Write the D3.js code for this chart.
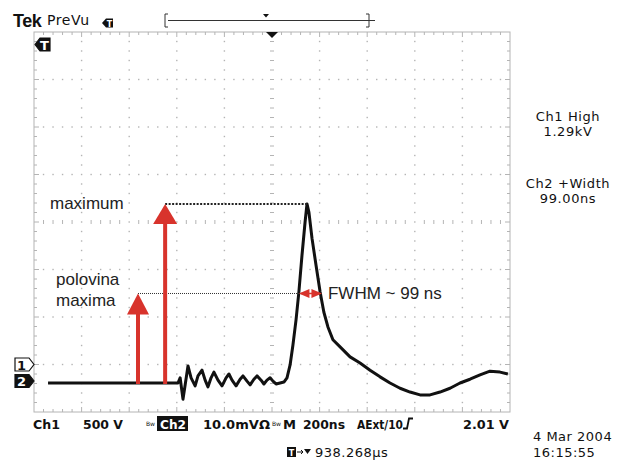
<!DOCTYPE html>
<html>
<head>
<meta charset="utf-8">
<script src="https://cdn.jsdelivr.net/npm/d3@7"></script>
<style>
body { margin: 0; background: #fff; }
svg { display: block; }
</style>
</head>
<body>
<div id="scope"></div>
<script>
// Ch2 trace: time in ns (0 = screen centre), volts in mV above Ch2 ground
const traceTime = [-941, -395, -386, -374, -365, -353, -340, -323, -311, -294, -281, -269, -256, -244,
    -227, -210, -193, -181, -168, -151, -134, -122, -105, -92, -76, -63, -46, -34, -21, -8, 4, 17,
    34, 50, 63, 76, 88, 101, 113, 126, 139, 147, 155, 168, 185, 202, 218, 235, 256, 286, 328, 370,
    412, 454, 496, 538, 580, 622, 664, 706, 748, 790, 832, 874, 916, 958, 991]
const traceVolt = [0, 0, 1.1, -3.4, -0.4, 3.6, 1.1, -0.6, 1.5, 2.7, 0.6, -0.8, 1.1, 2.3,
    0.6, -0.6, 1.1, 1.9, 0.6, -0.6, 0.8, 1.5, 0.4, -0.4, 0.8, 1.5, 0.6, -0.2, 0.6, 1.1, 0.4, -0.2,
    0, 0.2, 1.1, 3.8, 8.0, 13.3, 19.2, 26.9, 33.9, 37.7, 36.0, 30.5, 24.8, 19.2, 14.9, 11.8, 9.1, 7.6, 5.5, 4.2,
    2.7, 1.3, 0, -1.1, -1.9, -2.5, -2.5, -1.9, -1.1, 0, 0.8, 1.7, 2.5, 2.3, 1.9]

// annotation values
const peakTime = 147
const peakVolt = 37.7
const halfVolt = 18.85
const fwhmStart = 113
const fwhmEnd = 210
const arrowTimes = [-563, -449]
const arrowTips = [halfVolt, peakVolt]
const readoutTitles = ["Ch1 High", "Ch2 +Width"]
const readoutValues = ["1.29kV", "99.00ns"]

// screen consts
const width = 628
const height = 467
const grat = {left: 34, right: 510, top: 32, bottom: 412}
const xDivs = 10
const yDivs = 8
const grid_color = "#b4b4b4"
const red = "#d8332c"
const scope_font = "DejaVu Sans, sans-serif"
const note_font = "Liberation Sans, Arial, sans-serif"

const x = d3.scaleLinear().domain([-1000, 1000]).range([grat.left, grat.right])
const y = d3.scaleLinear().domain([-6.1, 73.9]).range([grat.bottom, grat.top])
const xDiv = d3.scaleLinear().domain([0, xDivs]).range([grat.left, grat.right])
const yDiv = d3.scaleLinear().domain([0, yDivs]).range([grat.bottom, grat.top])

const svg = d3.select("#scope").append("svg")
    .attr("width", width)
    .attr("height", height)
    .attr("viewBox", "0 0 " + width + " " + height)

// graticule
function draw_graticule(){
    var g = svg.append("g").attr("stroke", grid_color).attr("fill", grid_color)
    // dots on every division line, 5 per division
    for (var i = 1; i < xDivs; i++){
        for (var k = 1; k < yDivs * 5; k++){
            var cx = xDiv(i), cy = yDiv(k / 5)
            if (i == 5) g.append("line").attr("x1", cx - 2).attr("x2", cx + 2).attr("y1", cy).attr("y2", cy).attr("stroke-width", 1)
            else g.append("rect").attr("x", cx - 0.7).attr("y", cy - 0.7).attr("width", 1.4).attr("height", 1.4).attr("stroke", "none")
        }
    }
    for (var j = 1; j < yDivs; j++){
        for (var k = 1; k < xDivs * 5; k++){
            var cx = xDiv(k / 5), cy = yDiv(j)
            if (k % 5 == 0) continue
            if (j == 4) g.append("line").attr("x1", cx).attr("x2", cx).attr("y1", cy - 2).attr("y2", cy + 2).attr("stroke-width", 1)
            else g.append("rect").attr("x", cx - 0.7).attr("y", cy - 0.7).attr("width", 1.4).attr("height", 1.4).attr("stroke", "none")
        }
    }
    // border with minor ticks
    g.append("rect")
        .attr("x", grat.left).attr("y", grat.top)
        .attr("width", grat.right - grat.left).attr("height", grat.bottom - grat.top)
        .attr("fill", "none").attr("stroke-width", 1)
    for (var k = 1; k < xDivs * 5; k++){
        var len = k % 5 == 0 ? 5 : 3
        g.append("line").attr("x1", xDiv(k / 5)).attr("x2", xDiv(k / 5)).attr("y1", grat.top).attr("y2", grat.top + len)
        g.append("line").attr("x1", xDiv(k / 5)).attr("x2", xDiv(k / 5)).attr("y1", grat.bottom).attr("y2", grat.bottom - len)
    }
    for (var k = 1; k < yDivs * 5; k++){
        var len = k % 5 == 0 ? 5 : 3
        g.append("line").attr("x1", grat.left).attr("x2", grat.left + len).attr("y1", yDiv(k / 5)).attr("y2", yDiv(k / 5))
        g.append("line").attr("x1", grat.right).attr("x2", grat.right - len).attr("y1", yDiv(k / 5)).attr("y2", yDiv(k / 5))
    }
}

// trace
function draw_trace(){
    var line = d3.line()
        .x(function(d, i){ return x(traceTime[i]) })
        .y(function(d, i){ return y(traceVolt[i]) })
        .curve(d3.curveLinear)
    svg.append("path")
        .datum(traceTime)
        .attr("d", line)
        .attr("fill", "none")
        .attr("stroke", "#111")
        .attr("stroke-width", 3)
        .attr("stroke-linejoin", "round")
}

// red arrows, dotted guides and FWHM label
function draw_annotations(){
    svg.append("line")
        .attr("x1", x(arrowTimes[1])).attr("x2", x(peakTime))
        .attr("y1", y(peakVolt)).attr("y2", y(peakVolt))
        .attr("stroke", "#222").attr("stroke-width", 2).attr("stroke-dasharray", "2,1.5")
    svg.append("line")
        .attr("x1", x(arrowTimes[0])).attr("x2", x(fwhmStart))
        .attr("y1", y(halfVolt)).attr("y2", y(halfVolt))
        .attr("stroke", "#333").attr("stroke-width", 1).attr("stroke-dasharray", "1,1")

    var heads = [{w: 11, h: 21}, {w: 12, h: 20}]
    arrowTimes.forEach(function(t, i){
        var ax = x(t), tip = y(arrowTips[i]), hd = heads[i]
        svg.append("line")
            .attr("x1", ax).attr("x2", ax)
            .attr("y1", y(0) + 1).attr("y2", tip + hd.h - 1)
            .attr("stroke", red).attr("stroke-width", 4)
        svg.append("path")
            .attr("d", "M" + ax + "," + tip + "L" + (ax + hd.w) + "," + (tip + hd.h) + "L" + (ax - hd.w) + "," + (tip + hd.h) + "Z")
            .attr("fill", red)
    })

    // FWHM double arrow
    var fy = y(halfVolt), fl = x(fwhmStart), fr = x(fwhmEnd), fm = (fl + fr) / 2
    svg.append("path")
        .attr("d", "M" + fl + "," + fy + "L" + (fm - 1) + "," + (fy - 4.5) + "L" + (fm - 1) + "," + (fy + 4.5) + "Z" +
                   "M" + fr + "," + fy + "L" + (fm + 1) + "," + (fy - 4.5) + "L" + (fm + 1) + "," + (fy + 4.5) + "Z")
        .attr("fill", red)
    svg.append("line").attr("x1", fl + 2).attr("x2", fr - 2).attr("y1", fy).attr("y2", fy)
        .attr("stroke", red).attr("stroke-width", 1.5)

    var notes = svg.append("g").attr("font-family", note_font).attr("font-size", 17).attr("fill", "#222")
    notes.append("text").attr("x", 50).attr("y", y(peakVolt) + 5).text("maximum")
    notes.append("text").attr("x", 56).attr("y", 285).text("polovina")
    notes.append("text").attr("x", 56).attr("y", 306).text("maxima")
    notes.append("text").attr("x", fr + 6).attr("y", fy + 6).text("FWHM ~ 99 ns")
}

// scope markers: pentagon label pointing right (channels) or left (trigger)
function marker(cx, cy, label, filled, dir){
    var w = 19, h = 13, p = 5
    var d = dir > 0
        ? "M" + (cx - w) + "," + (cy - h / 2) + "L" + (cx - p) + "," + (cy - h / 2) + "L" + cx + "," + cy +
          "L" + (cx - p) + "," + (cy + h / 2) + "L" + (cx - w) + "," + (cy + h / 2) + "Z"
        : "M" + cx + "," + cy + "L" + (cx + p) + "," + (cy - h / 2) + "L" + (cx + w - 4) + "," + (cy - h / 2) +
          "L" + (cx + w - 4) + "," + (cy + h / 2) + "L" + (cx + p) + "," + (cy + h / 2) + "Z"
    svg.append("path").attr("d", d)
        .attr("fill", filled ? "#111" : "#fff").attr("stroke", "#111").attr("stroke-width", 1.2)
    svg.append("text")
        .attr("x", dir > 0 ? cx - w / 2 - 3 : cx + w / 2)
        .attr("y", cy + 5)
        .attr("text-anchor", "middle")
        .attr("font-family", scope_font).attr("font-weight", "bold").attr("font-size", 13)
        .attr("fill", filled ? "#fff" : "#111")
        .text(label)
}

// fitted text for the status line
function fit_text(g, tx, ty, str, len){
    return g.append("text").attr("x", tx).attr("y", ty)
        .attr("textLength", len).attr("lengthAdjust", "spacingAndGlyphs")
        .text(str)
}

function draw_screen_text(){
    svg.append("text").attr("x", 13).attr("y", 27)
        .attr("font-family", note_font).attr("font-weight", "bold").attr("font-size", 18)
        .attr("letter-spacing", -0.5).attr("fill", "#111").text("Tek")
    svg.append("text").attr("x", 47).attr("y", 25)
        .attr("font-family", scope_font).attr("font-size", 14).attr("letter-spacing", 0.6)
        .attr("fill", "#111").text("PreVu")
    svg.append("path").attr("d", "M102,23L106,18.5L113,18.5L113,27.5L106,27.5Z").attr("fill", "#111")
    svg.append("text").attr("x", 109.5).attr("y", 26.5).attr("text-anchor", "middle")
        .attr("font-family", scope_font).attr("font-weight", "bold").attr("font-size", 8).attr("fill", "#fff").text("T")

    // record bracket
    var b = svg.append("g").attr("stroke", "#333").attr("fill", "none").attr("stroke-width", 1)
    b.append("path").attr("d", "M168,14L165,14L165,27L168,27")
    b.append("path").attr("d", "M366,14L369,14L369,27L366,27")
    b.append("line").attr("x1", 168).attr("x2", 375).attr("y1", 20.5).attr("y2", 20.5)
    svg.append("path").attr("d", "M263,14L269,14L266,17.5Z").attr("fill", "#111")
    svg.append("path").attr("d", "M266,32L278,32L272,38Z").attr("fill", "#111")

    marker(grat.left + 1, 44.5, "T", true, -1)
    marker(grat.left, 364.5, "1", false, 1)
    marker(grat.left, 381, "2", true, 1)

    // right readouts
    var r = svg.append("g").attr("font-family", scope_font).attr("font-size", 13)
        .attr("letter-spacing", 0.6).attr("fill", "#111").attr("text-anchor", "middle")
    readoutTitles.forEach(function(t, i){
        r.append("text").attr("x", 568).attr("y", 121 + i * 67).text(t)
        r.append("text").attr("x", 568).attr("y", 136 + i * 67).text(readoutValues[i])
    })

    // bottom status line
    svg.append("rect").attr("x", 157).attr("y", 416).attr("width", 31).attr("height", 15).attr("fill", "#111")
    var s = svg.append("g").attr("font-family", scope_font).attr("font-weight", "bold")
        .attr("font-size", 13).attr("fill", "#111")
    fit_text(s, 33, 429, "Ch1", 27)
    fit_text(s, 83, 429, "500 V", 40)
    s.append("text").attr("x", 146).attr("y", 426).attr("font-size", 6).attr("font-weight", "normal").text("Bw")
    fit_text(s, 160, 429, "Ch2", 26).attr("fill", "#fff")
    fit_text(s, 203, 429, "10.0mV\u03a9", 67)
    s.append("text").attr("x", 272).attr("y", 426).attr("font-size", 6).attr("font-weight", "normal").text("Bw")
    fit_text(s, 283, 429, "M", 13)
    fit_text(s, 303, 429, "200ns", 42)
    fit_text(s, 357, 429, "AExt/10", 46)
    svg.append("path").attr("d", "M403,428.5L407,428.5L409,418.5L413,418.5").attr("fill", "none")
        .attr("stroke", "#111").attr("stroke-width", 1.8)
    fit_text(s, 463, 429, "2.01 V", 46)

    var t = svg.append("g").attr("font-family", scope_font).attr("font-size", 13)
        .attr("letter-spacing", 0.5).attr("fill", "#111")
    t.append("text").attr("x", 533).attr("y", 441).text("4 Mar  2004")
    t.append("text").attr("x", 533).attr("y", 457).text("16:15:55")
    t.append("text").attr("x", 315).attr("y", 457).text("938.268\u00b5s")
    svg.append("rect").attr("x", 287).attr("y", 447).attr("width", 9).attr("height", 10).attr("fill", "#111")
    svg.append("text").attr("x", 291.5).attr("y", 455.5).attr("text-anchor", "middle")
        .attr("font-family", scope_font).attr("font-weight", "bold").attr("font-size", 8).attr("fill", "#fff").text("T")
    svg.append("path").attr("d", "M297,452L303,452M301,450L303,452L301,454").attr("stroke", "#111").attr("fill", "none")
    svg.append("path").attr("d", "M304,449L311,449L307.5,454Z").attr("fill", "#111")
}

draw_graticule()
draw_trace()
draw_annotations()
draw_screen_text()
</script>
</body>
</html>
